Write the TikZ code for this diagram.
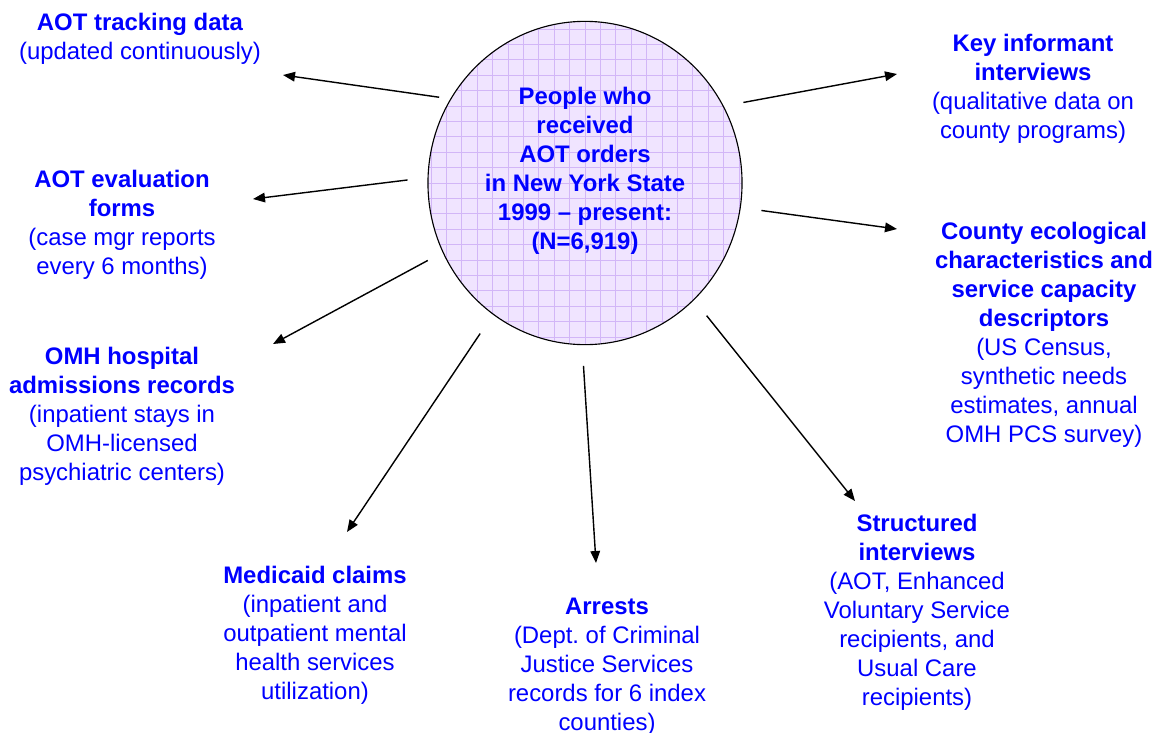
\documentclass[tikz,border=0pt]{standalone}
\usepackage{fontspec}
\setmainfont{Liberation Sans}
\usetikzlibrary{shapes.geometric, arrows.meta, positioning}
\usepackage{xcolor}
\definecolor{labelblue}{RGB}{0,0,255}
\definecolor{poolfill}{RGB}{240,228,255}
\definecolor{poolgrid}{RGB}{210,182,247}

\begin{document}
\begin{tikzpicture}[x=0.025cm, y=-0.025cm,
    src/.style={align=center, text=labelblue, inner sep=0pt,
      font=\fontsize{17pt}{20.6pt}\selectfont},
    feed/.style={line width=1pt, -{Triangle[length=3mm, width=2.4mm]}}]
  \useasboundingbox (0,0) rectangle (1156,732);
  % The study population sits in the middle, a gridded lavender disc
  \node[ellipse, draw, line width=0.8pt, fill=poolfill, inner sep=0pt,
        minimum width=7.85cm, minimum height=8.08cm,
        path picture={\draw[poolgrid, line width=0.5pt, step=0.385cm]
          (path picture bounding box.south west) grid (path picture bounding box.north east);}]
        (pop) at (585,183) {};
  \node[src, font=\fontsize{17pt}{20.6pt}\selectfont\bfseries] (popText) at (585,171)
        {People who\\received\\AOT orders\\in New York State\\1999 -- present:\\(N=6,919)};
  % Data sources around it
  \node[src] (aotTrack) at (140,39) {\textbf{AOT tracking data}\\(updated continuously)};
  \node[src] (aotEval) at (122,225) {\textbf{AOT evaluation}\\\textbf{forms}\\(case mgr reports\\every 6 months)};
  \node[src] (omhHosp) at (122,416) {\textbf{OMH hospital}\\\textbf{admissions records}\\(inpatient stays in\\OMH-licensed\\psychiatric centers)};
  \node[src] (medicaid) at (315,635) {\textbf{Medicaid claims}\\(inpatient and\\outpatient mental\\health services\\utilization)};
  \node[src] (arrests) at (607,667) {\textbf{Arrests}\\(Dept.\ of Criminal\\Justice Services\\records for 6 index\\counties)};
  \node[src] (structured) at (917,612) {\textbf{Structured}\\\textbf{interviews}\\(AOT, Enhanced\\Voluntary Service\\recipients, and\\Usual Care\\recipients)};
  \node[src] (county) at (1044,335) {\textbf{County ecological}\\\textbf{characteristics and}\\\textbf{service capacity}\\\textbf{descriptors}\\(US Census,\\synthetic needs\\estimates, annual\\OMH PCS survey)};
  \node[src] (keyInf) at (1033,89) {\textbf{Key informant}\\\textbf{interviews}\\(qualitative data on\\county programs)};
  % Where each arrow stops, just short of its text
  \coordinate (aotTrackTip) at (283,75);
  \coordinate (aotEvalTip) at (253,199);
  \coordinate (omhHospTip) at (273,344);
  \coordinate (medicaidTip) at (347,532);
  \coordinate (arrestsTip) at (596,563);
  \coordinate (structuredTip) at (855,501);
  \coordinate (countyTip) at (897,229);
  \coordinate (keyInfTip) at (897,74);
  % Arrows leave the disc with a small gap
  \draw[feed, shorten <=0.28cm] (pop.148.7) -- (aotTrackTip);
  \draw[feed, shorten <=0.5cm] (pop.178.3) -- (aotEvalTip);
  \draw[feed, shorten <=0.42cm] (pop.206.8) -- (omhHospTip);
  \draw[feed, shorten <=0.57cm] (pop.235.4) -- (medicaidTip);
  \draw[feed, shorten <=0.52cm] (pop.269.7) -- (arrestsTip);
  \draw[feed, shorten <=0.5cm] (pop.313.7) -- (structuredTip);
  \draw[feed, shorten <=0.52cm] (pop.351.7) -- (countyTip);
  \draw[feed, shorten <=0.5cm] (pop.29.7) -- (keyInfTip);
\end{tikzpicture}
\end{document}
